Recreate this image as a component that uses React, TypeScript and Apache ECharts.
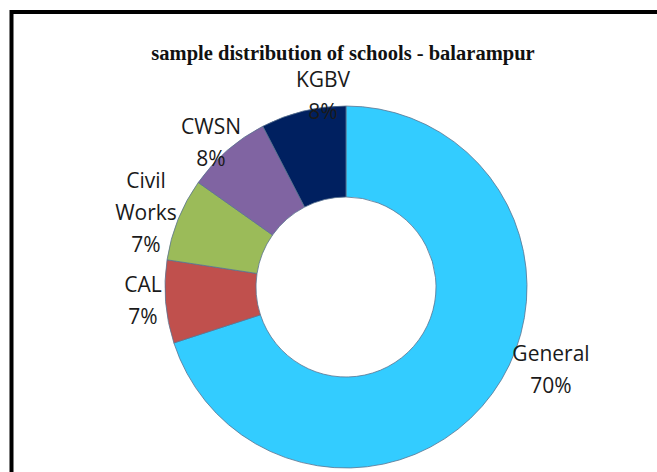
import React, { useEffect, useRef } from "react";
import * as echarts from "echarts";

const TITLE = "sample distribution of schools - balarampur";
const categories = ["General", "CAL", "Civil Works", "CWSN", "KGBV"];
const labelNames = ["General", "CAL", "Civil\nWorks", "CWSN", "KGBV"];
const values = [70, 7.4, 7.4, 7.6, 7.6];
const colors = ["#33CCFF", "#C0504D", "#9BBB59", "#8064A2", "#002060"];

// label anchor positions (layout only), in page pixels
const LABEL_POS: Record<string, [number, number]> = {
  General: [551, 369],
  CAL: [143, 300],
  "Civil Works": [146, 212],
  CWSN: [211, 142],
  KGBV: [323, 95],
};

export default function App() {
  const ref = useRef<HTMLDivElement>(null);
  useEffect(() => {
    document.body.style.margin = "0";
    const chart = echarts.init(ref.current!, null, { renderer: "svg" });
    chart.setOption({
      animation: false,
      backgroundColor: "#ffffff",
      title: {
        text: TITLE,
        left: 338,
        top: 37,
        textAlign: "center",
        textStyle: {
          fontFamily: "'Liberation Serif', serif",
          fontWeight: "bold",
          fontSize: 20.5,
          color: "#111",
        },
      },
      graphic: [
        {
          type: "rect",
          shape: { x: 11.5, y: 12, width: 1000, height: 1000 },
          style: { fill: "none", stroke: "#000", lineWidth: 4 },
          z: 100,
        },
      ],
      series: [
        {
          type: "pie",
          center: [346, 287],
          radius: [90, 181],
          startAngle: 90,
          clockwise: true,
          avoidLabelOverlap: false,
          itemStyle: { borderColor: "#5b7490", borderWidth: 0.8 },
          label: {
            show: true,
            position: "outside",
            fontFamily: "'Open Sans', sans-serif",
            fontSize: 21,
            lineHeight: 32,
            color: "#1a1a1a",
            align: "center",
            formatter: (p: any) =>
              `${labelNames[p.dataIndex]}\n${Math.round(p.percent)}%`,
          },
          labelLine: { show: false },
          labelLayout: (params: any) => {
            const pos = LABEL_POS[categories[params.dataIndex]];
            return {
              x: pos[0],
              y: pos[1],
              align: "center",
              verticalAlign: "middle",
            };
          },
          data: categories.map((c, i) => ({
            name: c,
            value: values[i],
            itemStyle: { color: colors[i] },
          })),
        },
      ],
    });
    return () => chart.dispose();
  }, []);
  return (
    <div
      ref={ref}
      style={{ position: "fixed", left: 0, top: 0, width: 657, height: 472 }}
    />
  );
}
